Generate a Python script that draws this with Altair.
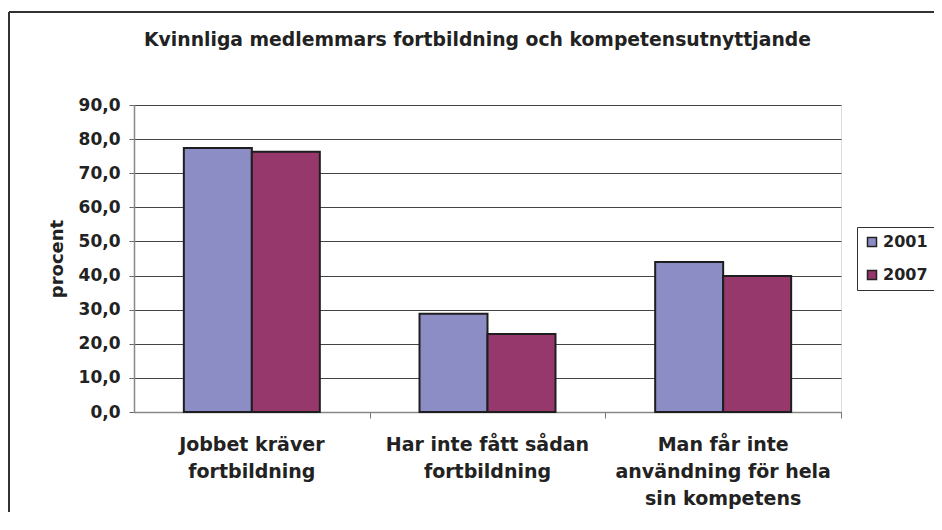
import altair as alt
import pandas as pd

# ---- data ----
categories = ["Jobbet kräver|fortbildning",
              "Har inte fått sådan|fortbildning",
              "Man får inte|användning för hela|sin kompetens"]
years = ["2001", "2007"]
v2001 = [77.4, 28.8, 44.0]
v2007 = [76.3, 22.9, 39.9]
y_ticks = [0, 10, 20, 30, 40, 50, 60, 70, 80, 90]
title_text = "Kvinnliga medlemmars fortbildning och kompetensutnyttjande"
y_title = "procent"

rows = []
for c, a, b in zip(categories, v2001, v2007):
    rows.append({"kategori": c, "år": years[0], "procent": a})
    rows.append({"kategori": c, "år": years[1], "procent": b})
df = pd.DataFrame(rows)

FONT = "DejaVu Sans"
FW = "bold"
TXT = "#222222"
W, H = 707, 307
P_IN, P_OUT = 0.423, 0.2115
step = W / (len(categories) - P_IN + 2 * P_OUT)

xscale = alt.Scale(domain=categories, paddingInner=P_IN, paddingOuter=P_OUT)

base = alt.Chart(df)

bars = base.mark_bar(stroke="#1e1e1e", strokeWidth=2).encode(
    x=alt.X("kategori:N", scale=xscale, sort=categories, title=None,
            axis=alt.Axis(orient="bottom", labelAngle=0, ticks=False,
                          labelExpr="split(datum.label, '|')",
                          labelFont=FONT, labelFontSize=19, labelFontWeight=FW,
                          labelColor=TXT,
                          labelLineHeight=27, labelPadding=23, labelLimit=400,
                          domainColor="#888888", domainWidth=1.5, grid=False)),
    xOffset=alt.XOffset("år:N", sort=years),
    y=alt.Y("procent:Q", scale=alt.Scale(domain=[0, 90], nice=False),
            title=y_title,
            axis=alt.Axis(values=y_ticks,
                          labelExpr="replace(format(datum.value, '.1f'), '.', ',')",
                          labelFont=FONT, labelFontSize=17, labelFontWeight=FW,
                          labelColor=TXT,
                          labelPadding=9, tickSize=5, tickColor="#666666",
                          domainColor="#888888", domainWidth=1.5,
                          gridColor="#444444", gridWidth=1,
                          titleFont=FONT, titleFontSize=18, titleFontWeight=FW,
                          titleColor=TXT, titlePadding=12)),
    color=alt.Color("år:N", sort=years,
                    scale=alt.Scale(domain=years, range=["#8D8DC6", "#96386B"]),
                    legend=alt.Legend(title=None, orient="none", legendX=723, legendY=122,
                                      symbolType="square", symbolSize=81,
                                      symbolStrokeColor="#222222", symbolStrokeWidth=1.5,
                                      labelFont=FONT, labelFontSize=16, labelFontWeight=FW,
                                      labelColor=TXT, labelLimit=200,
                                      labelOffset=3, rowPadding=17, padding=7,
                                      strokeColor="#333333", fillColor="white")),
)

# tick marks at category boundaries (Excel style)
cat_ticks = base.mark_rule(opacity=0).encode(
    x=alt.X("kategori:N", scale=xscale, sort=categories, title=None,
            axis=alt.Axis(orient="bottom", labels=False, domain=False, grid=False,
                          ticks=True, tickSize=6, tickColor="#777777",
                          bandPosition=1, tickOffset=step * P_IN / 2)),
)

# outer chart frame (top and left edges visible)
frame_top = alt.Chart(df).mark_rule(color="#333333", strokeWidth=1.5).encode(
    x=alt.value(-125), x2=alt.value(830), y=alt.value(-93))
frame_left = alt.Chart(df).mark_rule(color="#333333", strokeWidth=1.5).encode(
    x=alt.value(-125), y=alt.value(-93), y2=alt.value(420))

chart = alt.layer(bars, cat_ticks, frame_top, frame_left).resolve_axis(
    x="independent"
).properties(
    width=W, height=H,
    title=alt.TitleParams(title_text, font=FONT, fontSize=18.8, fontWeight=FW,
                          color=TXT, anchor="middle", baseline="alphabetic",
                          offset=-54, dx=-10),
    autosize=alt.AutoSizeParams(type="none"),
    padding={"left": 126, "top": 97, "right": 93, "bottom": 100},
).configure_view(
    fill="#E9E9EB", stroke="#888888", strokeWidth=1.5
).configure(background="white")

chart.save("out.html", embed_options={"renderer": "svg", "actions": False})
